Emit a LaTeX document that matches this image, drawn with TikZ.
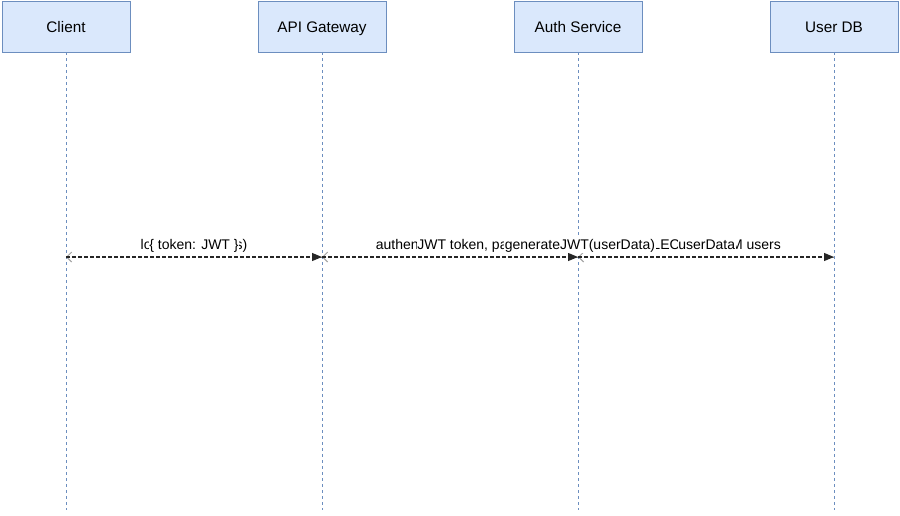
\documentclass[tikz,border=0pt]{standalone}
\usepackage{fontspec}
\setmainfont{Liberation Sans}
\usetikzlibrary{arrows.meta}
\definecolor{boxfill}{HTML}{DAE8FC}
\definecolor{boxline}{HTML}{6C8EBF}
\definecolor{retgray}{HTML}{A0A0A0}
\tikzset{
  actor/.style={draw=boxline, fill=boxfill, line width=0.9pt, minimum width=128pt, minimum height=51pt, inner sep=0pt, text height=12pt, text depth=0pt, font=\fontsize{15.3}{17}\selectfont},
  lifeline/.style={draw=boxline, line width=0.8pt, dash pattern=on 3pt off 3pt},
  reqmsg/.style={draw=black!85, line width=1.1pt, dash pattern=on 4pt off 2pt, -{Triangle[length=10pt,width=8pt]}},
  retmsg/.style={draw=retgray, line width=1pt, dash pattern=on 4pt off 2pt, -{Straight Barb[length=5pt,width=10pt]}},
  lbl/.style={inner sep=0.6pt, fill=white, font=\fontsize{14}{16}\selectfont},
}
\begin{document}
\begin{tikzpicture}[x=1pt,y=-1pt]
\useasboundingbox[fill=white] (0,0) rectangle (900,515);
% actors
\node[actor] (client) at (66,26.5) {Client};
\node[actor] (gw) at (322,26.5) {API Gateway};
\node[actor] (auth) at (578,26.5) {Auth Service};
\node[actor] (db) at (834,26.5) {User DB};
% lifeline ends
\coordinate (clientE) at (66,510);
\coordinate (gwE) at (322,510);
\coordinate (authE) at (578,510);
\coordinate (dbE) at (834,510);
\draw[lifeline] (client.south) -- (clientE);
\draw[lifeline] (gw.south) -- (gwE);
\draw[lifeline] (auth.south) -- (authE);
\draw[lifeline] (db.south) -- (dbE);
% message points
\coordinate (m1) at (66,257);
\coordinate (m2) at (322,257);
\coordinate (m3) at (578,257);
\coordinate (m4) at (834,257);
% return arrows (grey, open head)
\draw[retmsg] (m2) -- (m1);
\draw[retmsg] (m3) -- (m2);
\draw[retmsg] (m4) -- (m3);
% request arrows (black, filled head)
\draw[reqmsg] (m1) -- (m2);
\draw[reqmsg] (m2) -- (m3);
\draw[reqmsg] (m3) -- (m4);
% labels (overlapping as in the reference)
\node[lbl, anchor=base] (l1) at (194,249) {login(credentials)};
\node[lbl, anchor=base] (l2) at (194,249) {\{ token: JWT \}};
\node[lbl, anchor=base west] (l3) at (375,249) {authenticate(credentials)};
\node[lbl, anchor=base west] (l4) at (416.5,249) {JWT token, payload};
\node[lbl, anchor=base west] (l5) at (633,249) {SELECT * FROM users};
\node[lbl, anchor=base west] (l6) at (504,249) {generateJWT(userData)};
\node[lbl, anchor=base west] (l7) at (677.5,249) {userData};
\end{tikzpicture}
\end{document}
